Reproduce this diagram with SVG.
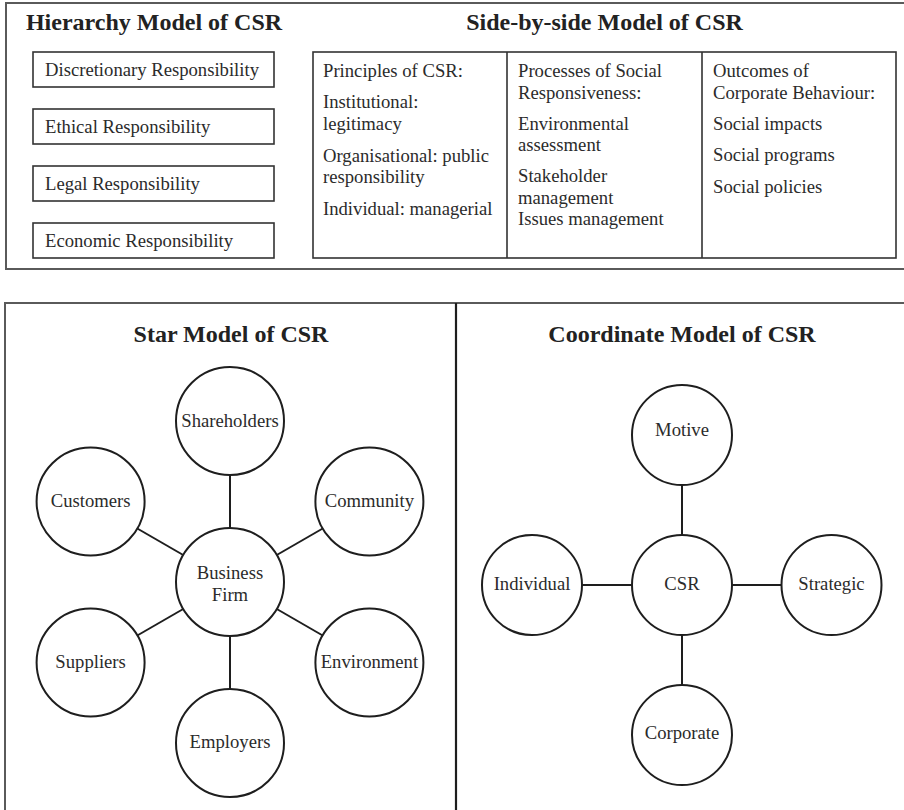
<svg xmlns="http://www.w3.org/2000/svg" width="904" height="810" viewBox="0 0 904 810">
<style>
  text { font-family: "Liberation Serif", "Times New Roman", serif; fill: #2b2b2b; }
  .title { font-size: 24px; font-weight: bold; text-anchor: middle; fill: #222; }
  .lbl { font-size: 18.67px; }
  .mid { text-anchor: middle; }
  .frame { fill: none; stroke: #5a5a5a; stroke-width: 2; }
  .box { fill: #fff; stroke: #333; stroke-width: 1.6; }
  .node { fill: #fff; stroke: #1e1e1e; stroke-width: 2; }
  .conn { stroke: #1e1e1e; stroke-width: 2; fill: none; }
  .divider { stroke: #1e1e1e; stroke-width: 2.2; fill: none; }
</style>

<!-- Frames -->
<path class="frame" d="M904,3 H6 V269 H904"/>
<path class="frame" d="M904,303 H5 V810"/>
<path class="divider" d="M456,303 V810"/>

<!-- Hierarchy Model -->
<g id="hierarchy">
  <text class="title" x="154" y="30">Hierarchy Model of CSR</text>
  <g id="h-discretionary">
    <rect class="box" x="33" y="52" width="241" height="35"/>
    <text class="lbl" x="45" y="76">Discretionary Responsibility</text>
  </g>
  <g id="h-ethical">
    <rect class="box" x="33" y="109" width="241" height="35"/>
    <text class="lbl" x="45" y="133">Ethical Responsibility</text>
  </g>
  <g id="h-legal">
    <rect class="box" x="33" y="166" width="241" height="35"/>
    <text class="lbl" x="45" y="190">Legal Responsibility</text>
  </g>
  <g id="h-economic">
    <rect class="box" x="33" y="223" width="241" height="35"/>
    <text class="lbl" x="45" y="247">Economic Responsibility</text>
  </g>
</g>

<!-- Side-by-side Model -->
<g id="sidebyside">
  <text class="title" x="604.5" y="30">Side-by-side Model of CSR</text>
  <rect class="box" x="313" y="52" width="583" height="206"/>
  <path class="box" d="M507,52 V258 M702,52 V258"/>
  <g id="s-principles">
    <text class="lbl" x="323" y="77">Principles of CSR:</text>
    <text class="lbl" x="323" y="108">Institutional:</text>
    <text class="lbl" x="323" y="129.5">legitimacy</text>
    <text class="lbl" x="323" y="161.5">Organisational: public</text>
    <text class="lbl" x="323" y="183">responsibility</text>
    <text class="lbl" x="323" y="215">Individual: managerial</text>
  </g>
  <g id="s-processes">
    <text class="lbl" x="518" y="77">Processes of Social</text>
    <text class="lbl" x="518" y="98.5">Responsiveness:</text>
    <text class="lbl" x="518" y="129.5">Environmental</text>
    <text class="lbl" x="518" y="151">assessment</text>
    <text class="lbl" x="518" y="182">Stakeholder</text>
    <text class="lbl" x="518" y="203.5">management</text>
    <text class="lbl" x="518" y="225">Issues management</text>
  </g>
  <g id="s-outcomes">
    <text class="lbl" x="713" y="77">Outcomes of</text>
    <text class="lbl" x="713" y="98.5">Corporate Behaviour:</text>
    <text class="lbl" x="713" y="129.5">Social impacts</text>
    <text class="lbl" x="713" y="161">Social programs</text>
    <text class="lbl" x="713" y="192.5">Social policies</text>
  </g>
</g>

<!-- Star Model -->
<text class="title" x="231" y="342">Star Model of CSR</text>
<g id="star-connectors">
  <path class="conn" d="M230,528 V475"/>
  <path class="conn" d="M230,636 V689"/>
  <path class="conn" d="M183.2,555 L137.3,528.5"/>
  <path class="conn" d="M276.8,555 L322.7,528.5"/>
  <path class="conn" d="M183.2,609 L137.3,635.5"/>
  <path class="conn" d="M276.8,609 L322.7,635.5"/>
</g>
<g id="star-business">
  <circle class="node" cx="230" cy="582" r="54"/>
  <text class="lbl mid" x="230" y="578.5">Business</text>
  <text class="lbl mid" x="230" y="601">Firm</text>
</g>
<g id="star-shareholders">
  <circle class="node" cx="230" cy="421" r="54"/>
  <text class="lbl mid" x="230" y="426.5">Shareholders</text>
</g>
<g id="star-customers">
  <circle class="node" cx="90.6" cy="501.5" r="54"/>
  <text class="lbl mid" x="90.6" y="507">Customers</text>
</g>
<g id="star-community">
  <circle class="node" cx="369.4" cy="501.5" r="54"/>
  <text class="lbl mid" x="369.4" y="507">Community</text>
</g>
<g id="star-suppliers">
  <circle class="node" cx="90.6" cy="662.5" r="54"/>
  <text class="lbl mid" x="90.6" y="668">Suppliers</text>
</g>
<g id="star-environment">
  <circle class="node" cx="369.4" cy="662.5" r="54"/>
  <text class="lbl mid" x="369.4" y="668">Environment</text>
</g>
<g id="star-employers">
  <circle class="node" cx="230" cy="743" r="54"/>
  <text class="lbl mid" x="230" y="748">Employers</text>
</g>

<!-- Coordinate Model -->
<text class="title" x="682" y="342">Coordinate Model of CSR</text>
<g id="coord-connectors">
  <path class="conn" d="M682,535 V485"/>
  <path class="conn" d="M682,635 V685"/>
  <path class="conn" d="M632,585 H582"/>
  <path class="conn" d="M732,585 H781.5"/>
</g>
<g id="coord-csr">
  <circle class="node" cx="682" cy="585" r="50"/>
  <text class="lbl mid" x="682" y="590">CSR</text>
</g>
<g id="coord-motive">
  <circle class="node" cx="682" cy="435" r="50"/>
  <text class="lbl mid" x="682" y="436">Motive</text>
</g>
<g id="coord-individual">
  <circle class="node" cx="532" cy="585" r="50"/>
  <text class="lbl mid" x="532" y="590">Individual</text>
</g>
<g id="coord-strategic">
  <circle class="node" cx="831.5" cy="585" r="50"/>
  <text class="lbl mid" x="831.5" y="590">Strategic</text>
</g>
<g id="coord-corporate">
  <circle class="node" cx="682" cy="735" r="50"/>
  <text class="lbl mid" x="682" y="739">Corporate</text>
</g>
</svg>
